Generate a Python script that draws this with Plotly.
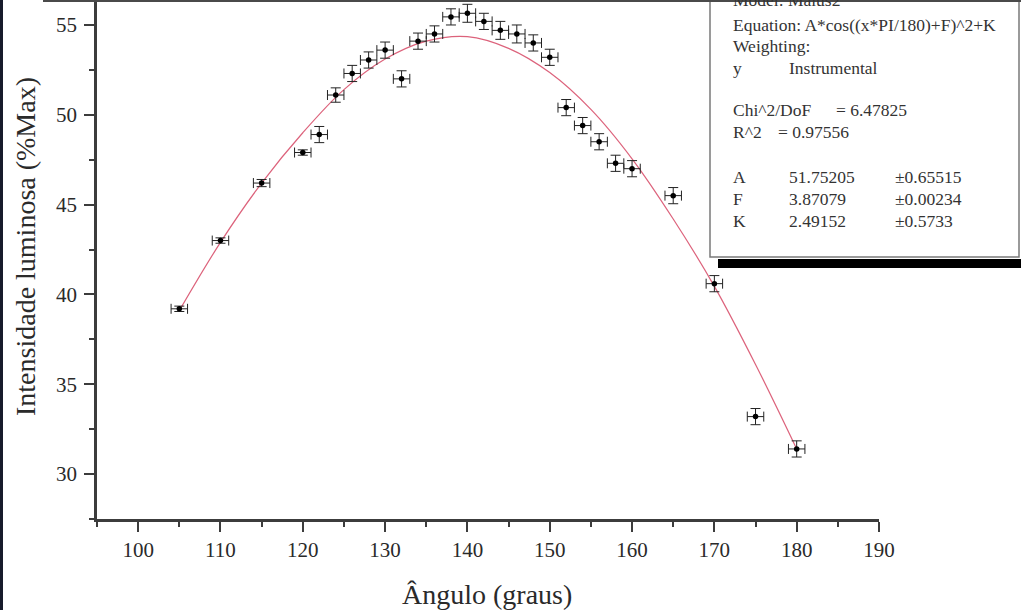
import plotly.graph_objects as go

# ---- data ----
angle = [105, 110, 115, 120, 122, 124, 126, 128, 130, 132, 134, 136, 138, 140,
         142, 144, 146, 148, 150, 152, 154, 156, 158, 160, 165, 170, 175, 180]
intensity = [39.2, 43.0, 46.2, 47.9, 48.9, 51.1, 52.3, 53.05, 53.6, 52.0, 54.1, 54.5, 55.45, 55.65,
             55.2, 54.7, 54.5, 54.0, 53.2, 50.4, 49.4, 48.5, 47.3, 47.0, 45.5, 40.6, 33.2, 31.4]
angle_err = [1] * len(angle)
intensity_err = [0.15, 0.15, 0.2, 0.15, 0.45, 0.4, 0.45, 0.45, 0.45, 0.45, 0.45, 0.45, 0.45, 0.5,
                 0.45, 0.5, 0.5, 0.45, 0.45, 0.45, 0.45, 0.45, 0.45, 0.45, 0.45, 0.45, 0.45, 0.45]

fit_angle = [105, 110, 115, 120, 125, 130, 135, 140, 145, 150, 155, 160, 165, 170, 175, 180]
fit_intensity = [39.1, 42.9, 46.2, 49.0, 51.4, 53.1, 54.1, 54.35, 53.7, 52.35, 50.3, 47.55, 44.2, 40.45, 36.1, 31.4]

x_ticks = [100, 110, 120, 130, 140, 150, 160, 170, 180, 190]
y_ticks = [30, 35, 40, 45, 50, 55]

box_lines = [
    ("Model: Malus2", None, None),
    ("Equation: A*cos((x*PI/180)+F)^2+K", None, None),
    ("Weighting:", None, None),
    ("y", "Instrumental", None),
    ("Chi^2/DoF", "= 6.47825", None),
    ("R^2", "= 0.97556", None),
    ("A", "51.75205", "±0.65515"),
    ("F", "3.87079", "±0.00234"),
    ("K", "2.49152", "±0.5733"),
]

# ---- layout geometry (pixels) ----
W, H = 1021, 610
PL, PR, PT, PB = 97, 879, 0, 519


def fx(px):
    return (px - PL) / (PR - PL)


def fy(py):
    return (PB - py) / (PB - PT)


SERIF = "Liberation Serif"
AXC = "#3c3c3c"

fig = go.Figure()
fig.add_trace(go.Scatter(
    x=fit_angle, y=fit_intensity, mode="lines",
    line=dict(color="rgba(214,70,100,0.85)", width=1.2, shape="spline", smoothing=1.0),
    hoverinfo="skip"))
fig.add_trace(go.Scatter(
    x=angle, y=intensity, mode="markers",
    marker=dict(color="black", size=5.5),
    error_x=dict(type="data", array=angle_err, color="#222", thickness=1, width=5),
    error_y=dict(type="data", array=intensity_err, color="#222", thickness=1, width=5)))

axis_common = dict(
    showgrid=False, zeroline=False, showline=True, linecolor=AXC, linewidth=2.5,
    ticks="outside", ticklen=10, tickwidth=2, tickcolor=AXC,
    tickfont=dict(family=SERIF, size=21, color="#2a2a2a"),
)

fig.update_xaxes(range=[95, 190], tickvals=x_ticks, ticklabelstandoff=0,
                 minor=dict(ticks="outside", ticklen=5, tickwidth=2, tickcolor=AXC, dtick=5, tick0=0),
                 **axis_common)
fig.update_yaxes(range=[27.5, 56.39], tickvals=y_ticks, ticklabelstandoff=3,
                 minor=dict(ticks="outside", ticklen=5, tickwidth=2, tickcolor=AXC, dtick=2.5, tick0=0),
                 **axis_common)

shapes = [
    # shadow under the parameter box
    dict(type="rect", xref="paper", yref="paper", x0=fx(718), x1=fx(1030), y0=fy(268), y1=fy(259),
         fillcolor="black", line=dict(width=0)),
    # parameter box
    dict(type="rect", xref="paper", yref="paper", x0=fx(710), x1=fx(1019), y0=fy(257), y1=fy(-10),
         fillcolor="white", line=dict(color="#7a7a7a", width=1.5)),
    # frame edges of the picture
    dict(type="rect", xref="paper", yref="paper", x0=fx(-5), x1=fx(3), y0=fy(620), y1=fy(-5),
         fillcolor="#171b2b", line=dict(width=0)),
    dict(type="rect", xref="paper", yref="paper", x0=fx(43), x1=fx(1030), y0=fy(2), y1=fy(-5),
         fillcolor="#4a4a4a", line=dict(width=0)),
]

annotations = [
    dict(text="Ângulo (graus)", xref="paper", yref="paper", x=fx(487), y=fy(594),
         xanchor="center", yanchor="middle", showarrow=False,
         font=dict(family=SERIF, size=28, color="#2a2a2a")),
    dict(text="Intensidade luminosa (%Max)", xref="paper", yref="paper", x=fx(25), y=fy(247),
         xanchor="center", yanchor="middle", showarrow=False, textangle=-90,
         font=dict(family=SERIF, size=28, color="#2a2a2a")),
]

row_y = [0, 25, 46, 68, 110, 132, 177, 199, 221]
col_x = [731, 787, 893]
for (c0, c1, c2), ry in zip(box_lines, row_y):
    cols = [c0, c1, c2]
    xs = list(col_x)
    if c0 == "Chi^2/DoF":
        xs[1] = 834
    if c0 == "R^2":
        xs[1] = 776
    for txt, cx in zip(cols, xs):
        if txt is None:
            continue
        annotations.append(dict(text=txt, xref="paper", yref="paper", x=fx(cx), y=fy(ry),
                                xanchor="left", yanchor="middle", showarrow=False,
                                font=dict(family=SERIF, size=17.5, color="#333333")))

fig.update_layout(
    width=W, height=H, margin=dict(l=PL, r=W - PR, t=PT, b=H - PB),
    paper_bgcolor="white", plot_bgcolor="white", showlegend=False,
    shapes=shapes, annotations=annotations,
)

fig.write_html("out.html")
